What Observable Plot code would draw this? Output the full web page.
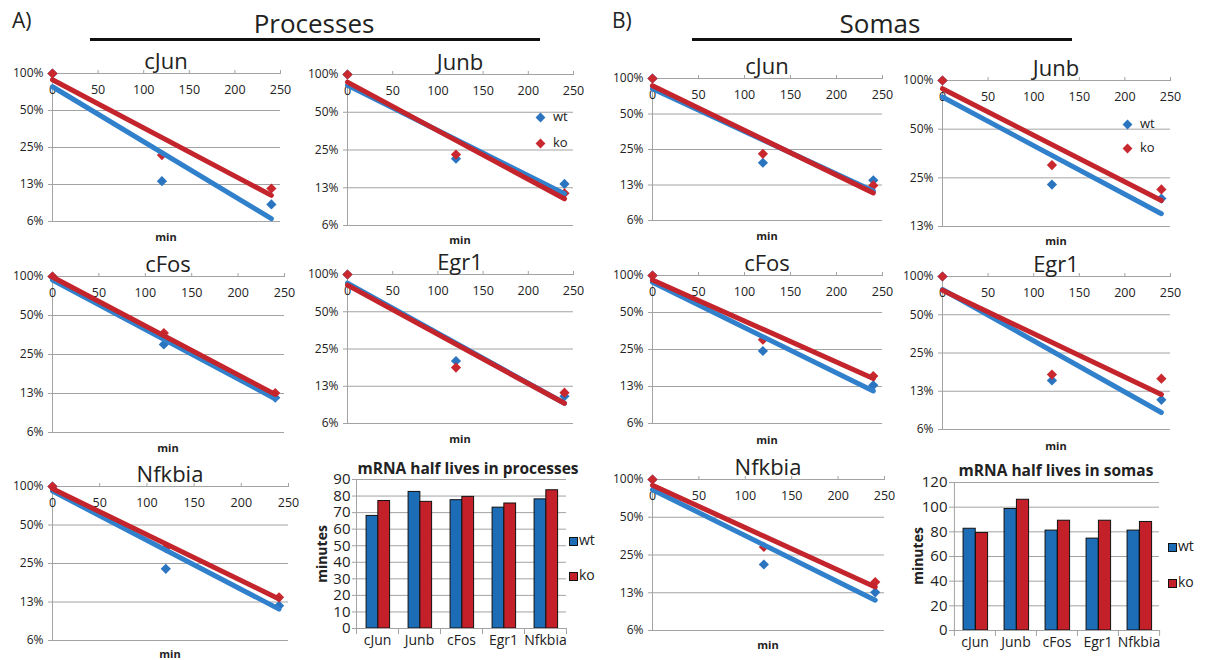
<!DOCTYPE html>
<html><head><meta charset="utf-8">
<script src="https://cdn.jsdelivr.net/npm/d3@7"></script>
<script src="https://cdn.jsdelivr.net/npm/@observablehq/plot@0.6"></script>
<style>
body{margin:0;background:#fff;}
#root{position:relative;width:1206px;height:660px;overflow:hidden;font-family:"Open Sans",sans-serif;color:#222;}
.abs{position:absolute;white-space:nowrap;}
svg{overflow:visible;}
</style></head><body><div id="root"></div>
<script>
// ---------------- data ----------------
const genes = ["cJun","Junb","cFos","Egr1","Nfkbia"];
const times = [0,120,240];          // sampling times (min)
const fitTimes = [0,240];           // trendline extent (min)
const xTicks = [0,50,100,150,200,250];
const yTickVals = [1,0.5,0.25,0.125,0.0625];
const yTickLabels = ["100%","50%","25%","13%","6%"];

// Processes – measured fraction remaining (per gene, at times)
const procWtPts = [[1,0.133,0.086],[1,0.213,0.134],[1,0.299,0.116],[1,0.200,0.104],[1,0.227,0.117]];
const procKoPts = [[1,0.217,0.116],[1,0.230,0.113],[1,0.366,0.126],[1,0.177,0.111],[1,0.330,0.136]];
// Processes – exponential trendline values at 0 and 240 min
const procWtFit = [[0.78,0.066],[0.82,0.112],[0.94,0.114],[0.85,0.091],[0.92,0.110]];
const procKoFit = [[0.89,0.102],[0.87,0.102],[0.99,0.123],[0.82,0.091],[0.96,0.132]];

// Somas
const somaWtPts = [[1,0.193,0.137],[1,0.227,0.186],[1,0.243,0.128],[1,0.152,0.107],[1,0.210,0.126]];
const somaKoPts = [[1,0.230,0.124],[1,0.300,0.212],[1,0.300,0.152],[1,0.169,0.157],[1,0.290,0.152]];
const somaWtFit = [[0.82,0.111],[0.79,0.150],[0.88,0.115],[0.79,0.085],[0.83,0.109]];
const somaKoFit = [[0.87,0.107],[0.89,0.181],[0.92,0.145],[0.78,0.118],[0.90,0.139]];

// Half lives (minutes)
const procHalfWt = [68,82.5,77.5,73,78];
const procHalfKo = [77,76.5,79.5,75.5,83.5];
const somaHalfWt = [82.5,98.5,81,74.5,81];
const somaHalfKo = [79,106,89,89,88];
const procBarTicks = [0,10,20,30,40,50,60,70,80,90];
const somaBarTicks = [0,20,40,60,80,100,120];

// ---------------- style ----------------
const WT_PT = "#2a74c0", KO_PT = "#c8282e";
const WT_LN = "#3080cc", KO_LN = "#c4242b";
const WT_BAR = "#1c6cb6", KO_BAR = "#c3202a";
const GRID = "#a3a3a3";

const root = document.getElementById("root");
function div(text, css){ const d=document.createElement("div"); d.className="abs"; d.textContent=text; Object.assign(d.style, css); root.appendChild(d); return d; }

function linePanel(c){
  const mL=48, mR=28, mT=14, mB=8;
  const yt = yTickVals.filter(v=>v >= c.lo*0.999);
  const yl = d => yTickLabels[yTickVals.indexOf(d)];
  const pW = times.map((t,i)=>({t, v:c.wt[i]}));
  const pK = times.map((t,i)=>({t, v:c.ko[i]}));
  const fW = fitTimes.map((t,i)=>({t, v:c.wtFit[i]}));
  const fK = fitTimes.map((t,i)=>({t, v:c.koFit[i]}));
  const svg = Plot.plot({
    width:c.W+mL+mR, height:c.H+mT+mB, marginLeft:mL, marginRight:mR, marginTop:mT, marginBottom:mB,
    x:{domain:[0,250], label:null},
    y:{type:"log", base:2, domain:[c.lo,1], label:null},
    style:{fontFamily:"Open Sans", background:"transparent", overflow:"visible", color:"#222"},
    marks:[
      Plot.ruleY(yt, {stroke:GRID, strokeWidth:1}),
      Plot.ruleX([0], {stroke:GRID, strokeWidth:1}),
      Plot.axisY(yt, {tickSize:4, tickPadding:5, tickFormat:yl, stroke:GRID, fontSize:12, label:null}),
      Plot.axisX(xTicks, {anchor:"top", tickSize:4, tickFormat:()=>"", stroke:GRID, label:null}),
      Plot.text(xTicks, {x:d=>d, y:()=>1, dy:16, text:d=>String(d), fontSize:12.5, fill:"#222"}),
      Plot.dot(pW, {x:"t", y:"v", symbol:"diamond2", r:4.6, fill:WT_PT}),
      Plot.dot(pK, {x:"t", y:"v", symbol:"diamond2", r:4.6, fill:KO_PT}),
      Plot.line(fW, {x:"t", y:"v", stroke:WT_LN, strokeWidth:5}),
      Plot.line(fK, {x:"t", y:"v", stroke:KO_LN, strokeWidth:5})
    ]
  });
  svg.style.position="absolute"; svg.style.left=(c.L-mL)+"px"; svg.style.top=(c.T-mT)+"px";
  root.appendChild(svg);
  div(c.title, {left:(c.L+c.W/2)+"px", top:(c.T-13)+"px", transform:"translate(-50%,-50%)", fontSize:"22px", lineHeight:"1"});
  div("min", {left:(c.L+c.W/2)+"px", top:(c.T+c.H+c.minOff)+"px", transform:"translate(-50%,-50%)", fontSize:"11px", fontWeight:"bold", lineHeight:"1"});
  if(c.legend){
    [["wt",WT_PT,0],["ko",KO_PT,1]].forEach(([lab,col,k])=>{
      const y = c.legend.y + k*c.legend.dy;
      div("", {left:(c.legend.x-3.5)+"px", top:(y-3.5)+"px", width:"7px", height:"7px", background:col, transform:"rotate(45deg)"});
      div(lab, {left:(c.legend.x+13)+"px", top:(y)+"px", transform:"translateY(-55%)", fontSize:"13px", lineHeight:"1"});
    });
  }
}

function barPanel(c){
  const mL=44, mR=4, mT=10, mB=32;
  const rows = genes.map((g,i)=>({gene:g, wt:c.wt[i], ko:c.ko[i]}));
  const bw = c.W/5, bf = c.bf;
  const ymax = c.ticks[c.ticks.length-1];
  const ext = ymax*6/c.H;
  const svg = Plot.plot({
    width:c.W+mL+mR, height:c.H+mT+mB, marginLeft:mL, marginRight:mR, marginTop:mT, marginBottom:mB,
    x:{type:"band", domain:genes, padding:0, label:null},
    y:{domain:[0,ymax], label:null},
    style:{fontFamily:"Open Sans", background:"transparent", overflow:"visible", color:"#222"},
    marks:[
      Plot.gridY(c.ticks, {stroke:GRID, strokeOpacity:1}),
      Plot.barY(rows, {x:"gene", y:"wt", fill:WT_BAR, stroke:"#111", strokeWidth:1, insetLeft:bw*(0.52-bf), insetRight:bw*0.48}),
      Plot.barY(rows, {x:"gene", y:"ko", fill:KO_BAR, stroke:"#111", strokeWidth:1, insetLeft:bw*0.52, insetRight:bw*(0.48-bf)}),
      Plot.ruleY([0], {stroke:GRID}),
      Plot.ruleX(genes, {x:d=>d, dx:-bw/2, y1:0, y2:-ext, stroke:GRID}),
      Plot.ruleX([genes[genes.length-1]], {x:d=>d, dx:bw/2, y1:0, y2:-ext, stroke:GRID}),
      Plot.ruleX([genes[0]], {x:d=>d, dx:-bw/2, y1:0, y2:ymax, stroke:GRID}),
      Plot.axisY(c.ticks, {tickSize:4, tickPadding:2, stroke:GRID, fontSize:c.yFont, label:null}),
      Plot.axisX({tickSize:0, tickPadding:7, fontSize:14, label:null})
    ]
  });
  svg.style.position="absolute"; svg.style.left=(c.L-mL)+"px"; svg.style.top=(c.T-mT)+"px";
  root.appendChild(svg);
  div(c.title, {left:c.titleX+"px", top:(c.titleY)+"px", transform:"translate(-50%,-50%)", fontSize:"15.5px", fontWeight:"bold", lineHeight:"1"});
  div("minutes", {left:(c.labelX-7)+"px", top:(c.T+c.H/2)+"px", transform:"translateY(-50%) rotate(180deg)", writingMode:"vertical-rl", fontSize:"14px", fontWeight:"bold", lineHeight:"14px"});
  [["wt",WT_BAR,0],["ko",KO_BAR,1]].forEach(([lab,col,k])=>{
    const y = c.legend.y + k*c.legend.dy;
    div("", {left:c.legend.x+"px", top:(y-4.5)+"px", width:"7px", height:"7px", background:col, border:"1px solid #111"});
    div(lab, {left:(c.legend.x+10)+"px", top:y+"px", transform:"translateY(-55%)", fontSize:"14px", lineHeight:"1"});
  });
}

// ---------------- headers ----------------
div("A)", {left:"12px", top:"20px", transform:"translateY(-50%)", fontSize:"21px", lineHeight:"1"});
div("Processes", {left:"314px", top:"23px", transform:"translate(-50%,-50%)", fontSize:"26px", lineHeight:"1"});
div("", {left:"90px", top:"38px", width:"450px", height:"3px", background:"#111"});
div("B)", {left:"612px", top:"20px", transform:"translateY(-50%)", fontSize:"21px", lineHeight:"1"});
div("Somas", {left:"880px", top:"23px", transform:"translate(-50%,-50%)", fontSize:"26px", lineHeight:"1"});
div("", {left:"692px", top:"38px", width:"380px", height:"3px", background:"#111"});

// ---------------- panels ----------------
const procGeo = [
  {L:52, T:73, W:228, H:148, minOff:15},
  {L:347,T:74, W:226, H:151, minOff:14},
  {L:52, T:276,W:232, H:156, minOff:15},
  {L:347,T:274,W:226, H:149, minOff:15},
  {L:52, T:486,W:236, H:154, minOff:13}
];
const somaGeo = [
  {L:652,T:78, W:230, H:142, minOff:15},
  {L:942,T:80, W:228, H:146, minOff:14},
  {L:652,T:275,W:230, H:148, minOff:16},
  {L:942,T:276,W:228, H:153, minOff:16},
  {L:652,T:479,W:232, H:151, minOff:14}
];
genes.forEach((g,i)=>{
  linePanel(Object.assign({title:g, lo:0.0625, wt:procWtPts[i], ko:procKoPts[i], wtFit:procWtFit[i], koFit:procKoFit[i],
    legend: g==="Junb" ? {x:540, y:117, dy:26} : null}, procGeo[i]));
  linePanel(Object.assign({title:g, lo: g==="Junb" ? 0.125 : 0.0625, wt:somaWtPts[i], ko:somaKoPts[i], wtFit:somaWtFit[i], koFit:somaKoFit[i],
    legend: g==="Junb" ? {x:1127, y:124, dy:24} : null}, somaGeo[i]));
});

barPanel({L:356, T:479, W:210, H:149, ticks:procBarTicks, wt:procHalfWt, ko:procHalfKo, bf:0.28, yFont:15,
  title:"mRNA half lives in processes", titleX:468, titleY:469, labelX:322, legend:{x:569, y:541, dy:35}});
barPanel({L:953, T:482, W:206, H:148, ticks:somaBarTicks, wt:somaHalfWt, ko:somaHalfKo, bf:0.3, yFont:15,
  title:"mRNA half lives in somas", titleX:1056, titleY:471, labelX:918, legend:{x:1168, y:547, dy:36}});
</script></body></html>
